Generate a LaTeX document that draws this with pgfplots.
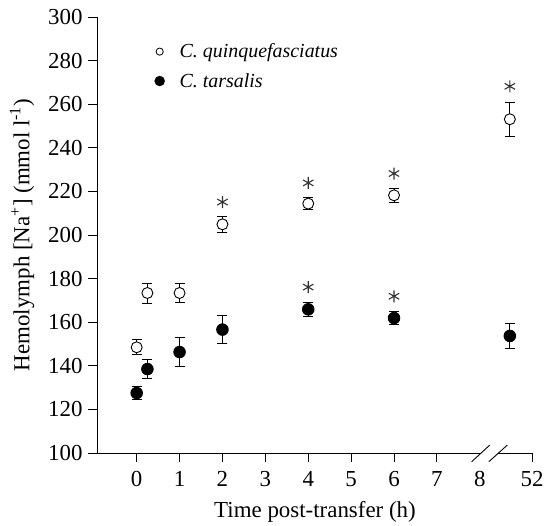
\documentclass[border=0pt]{standalone}
\usepackage{fontspec}
\setmainfont{Liberation Serif}
\usepackage{pgfplots}
\pgfplotsset{compat=1.18}

\begin{document}
\begin{tikzpicture}
\begin{axis}[
    width=436bp, height=436bp, scale only axis,
    xmin=-0.925, xmax=9.24,
    ymin=100, ymax=300,
    axis x line*=bottom, axis y line*=left,
    x axis line style={draw=none},
    y axis line style={line width=0.9bp, -},
    clip=false,
    tick align=outside,
    major tick length=9bp,
    tick style={line width=0.9bp, black},
    xtick={0,1,2,3,4,5,6,7,9.22},
    xticklabels={0,1,2,3,4,5,6,7,52},
    extra x ticks={8},
    extra x tick labels={8},
    extra x tick style={tick style={draw=none}},
    ytick={100,120,...,300},
    /pgf/number format/assume math mode=true,
    tick label style={font=\fontsize{23}{27}\selectfont},
    xticklabel style={yshift=-6bp},
    yticklabel style={xshift=-2bp},
    label style={font=\fontsize{23}{27}\selectfont},
    xlabel={Time post-transfer (h)},
    ylabel={Hemolymph [Na\textsuperscript{+}] (mmol l\textsuperscript{-1})},
    xlabel style={yshift=10bp},
    ylabel style={yshift=7bp},
    legend style={draw=none, fill=none, at={(rel axis cs:0.125,0.948)}, anchor=north west,
        font=\fontsize{20}{24}\selectfont\itshape, row sep=10bp,
        /tikz/every odd column/.append style={column sep=13bp}},
    legend cell align=left,
    legend entries={C. quinquefasciatus, C. tarsalis},
]
\addlegendimage{only marks, mark=o, mark size=3.6bp, black, line width=0.8bp}
\addlegendimage{only marks, mark=*, mark size=5bp, black}

% C. tarsalis (filled)
\addplot[only marks, mark=*, mark size=5.8bp, black, line width=0.9bp, forget plot,
    error bars/.cd, y dir=both, y explicit,
    error mark options={rotate=90, mark size=5bp, line width=0.9bp},
    error bar style={line width=0.9bp}]
coordinates {
    (0,127.5) +- (0,3.1)
    (0.25,138.5) +- (0,4.4)
    (1,146.3) +- (0,6.6)
    (2,156.6) +- (0,6.4)
    (4,165.9) +- (0,3.1)
    (6,161.9) +- (0,3.0)
    (8.7,153.7) +- (0,5.8)
};

% C. quinquefasciatus (open)
\addplot[only marks, mark=*, mark size=5.5bp, black, mark options={fill=white}, line width=0.9bp, forget plot,
    error bars/.cd, y dir=both, y explicit,
    error mark options={rotate=90, mark size=5bp, line width=0.9bp},
    error bar style={line width=0.9bp}]
coordinates {
    (0,148.5) +- (0,3.5)
    (0.25,173.4) +- (0,4.6)
    (1,173.4) +- (0,4.5)
    (2,204.9) +- (0,3.7)
    (4,214.4) +- (0,2.75)
    (6,218.2) +- (0,3.3)
    (8.7,253.1) +- (0,7.8)
};

% significance asterisks
\addplot[only marks, mark=asterisk, mark size=6bp, line width=1.1bp, black!80, forget plot]
coordinates {
    (2,215.1) (4,223.9) (6,228.2) (8.7,268.2)
    (4,176.1) (6,171.9)
};

% broken x axis line
\draw[line width=0.9bp] (axis cs:-0.925,100) -- (axis cs:8.02,100);
\draw[line width=0.9bp] (axis cs:8.43,100) -- (axis cs:9.24,100);
\draw[line width=0.9bp] (axis cs:7.81,96.0) -- (axis cs:8.23,103.6);
\draw[line width=0.9bp] (axis cs:8.21,96.0) -- (axis cs:8.64,103.6);
\end{axis}
\pgfresetboundingbox
\path (-97bp,-73bp) rectangle (449bp,453bp);
\end{tikzpicture}
\end{document}
